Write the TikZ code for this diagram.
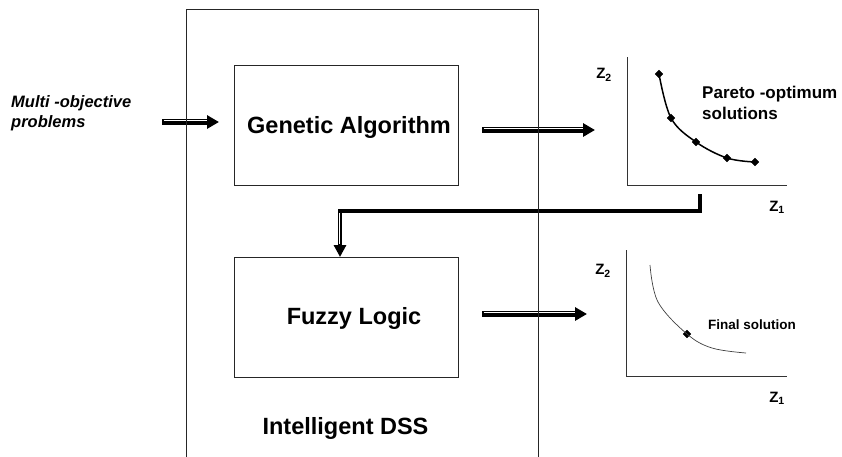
\documentclass[tikz,border=0pt]{standalone}
\usepackage{fontspec}
\setmainfont{Liberation Sans}
\usetikzlibrary{arrows.meta,shapes.geometric,calc}
\begin{document}
\begin{tikzpicture}[x=1pt,y=-1pt,
  box/.style={draw=black!85, line width=0.9pt, minimum width=224pt, minimum height=120pt, inner sep=0pt},
  big/.style={font=\fontsize{23.5}{27}\selectfont\bfseries},
  fat/.style={draw=black, line width=6pt, -{Triangle[length=12pt,width=13pt]}},
  fatelbow/.style={draw=black, line width=4.3pt, -{Triangle[length=12pt,width=12pt]}},
  stripe/.style={draw=white, line width=1.1pt},
  axis/.style={draw=black!80, line width=0.9pt},
  dia/.style={diamond, fill=black, draw=black, inner sep=0pt, minimum size=8pt},
  zlab/.style={font=\fontsize{15}{17}\selectfont\bfseries, inner sep=0pt},
  side/.style={inner sep=0pt, align=left, anchor=west}
]
\useasboundingbox (0,0) rectangle (842,456);

% main blocks
\node[box] (ga) at (346,125) {};
\node[big] (gatext) at (349,127) {Genetic Algorithm};
\node[box] (fz) at (346,317) {};
\node[big] (fztext) at (354,318) {Fuzzy Logic};
\node[big] (dsstext) at (345.5,428) {Intelligent DSS};

% input text
\node[side, font=\fontsize{16.5}{20}\selectfont\bfseries\itshape] (mo) at (11,113) {Multi -objective\\problems};

% Pareto chart
\coordinate (po) at (627,185);
\coordinate (py) at (627,57);
\coordinate (px) at (787,185);
\draw[axis] (py) -- (po) -- (px);
\node[zlab] (pz2) at (604,75) {Z\textsubscript{2}};
\node[zlab] (pz1) at (777,207) {Z\textsubscript{1}};
\node[dia] (p1) at (659,74) {};
\node[dia] (p2) at (671,118) {};
\node[dia] (p3) at (696,142) {};
\node[dia] (p4) at (727,158) {};
\node[dia] (p5) at (755,162) {};
\draw[black, line width=1.5pt] plot[smooth, tension=0.6] coordinates {(p1.center) (p2.center) (p3.center) (p4.center) (p5.center)};
\node[side, font=\fontsize{17}{21}\selectfont\bfseries] (pt) at (702,103) {Pareto -optimum\\solutions};

% Final chart
\coordinate (fo) at (626,376);
\coordinate (fy) at (626,250);
\coordinate (fx) at (787,376);
\draw[axis] (fy) -- (fo) -- (fx);
\node[zlab] (fz2) at (603,271) {Z\textsubscript{2}};
\node[zlab] (fz1) at (777,398) {Z\textsubscript{1}};
\coordinate (c0) at (650,265);
\coordinate (c4) at (746,353);
\node[dia] (f1) at (687,334) {};
\draw[black!75, line width=0.7pt] plot[smooth, tension=0.6] coordinates {(c0) (658,302) (f1.center) (712,348) (c4)};
\node[font=\fontsize{13.5}{15}\selectfont\bfseries, inner sep=0pt] (fs) at (752,325) {Final solution};

% arrows
\coordinate (a1s) at (162,122);
\coordinate (a1e) at (219,122);
\draw[fat] (a1s) -- (a1e);
\draw[stripe] ($(a1s)+(1.5,-1.4)$) -- ($(a1e)+(-12,-1.4)$);

\coordinate (a2s) at (482,130);
\coordinate (a2e) at (595,130);
\draw[fat] (a2s) -- (a2e);
\draw[stripe] ($(a2s)+(1.5,-1.4)$) -- ($(a2e)+(-12,-1.4)$);

\coordinate (a3s) at (482,314);
\coordinate (a3e) at (587,314);
\draw[fat] (a3s) -- (a3e);
\draw[stripe] ($(a3s)+(1.5,-1.4)$) -- ($(a3e)+(-12,-1.4)$);

% elbow connector
\coordinate (e1) at (700,194);
\coordinate (bend) at (700,211);
\coordinate (fzin) at (340,257);
\draw[fatelbow] (e1) -- (bend) -| (fzin);
\draw[stripe, line width=1pt] (339,213) -- (339,244);

% outer Intelligent DSS box (open below the picture)
\node[draw=black!85, line width=0.9pt, minimum width=352pt, minimum height=480pt, anchor=north west, inner sep=0pt] (dss) at (186,9) {};
\end{tikzpicture}
\end{document}
